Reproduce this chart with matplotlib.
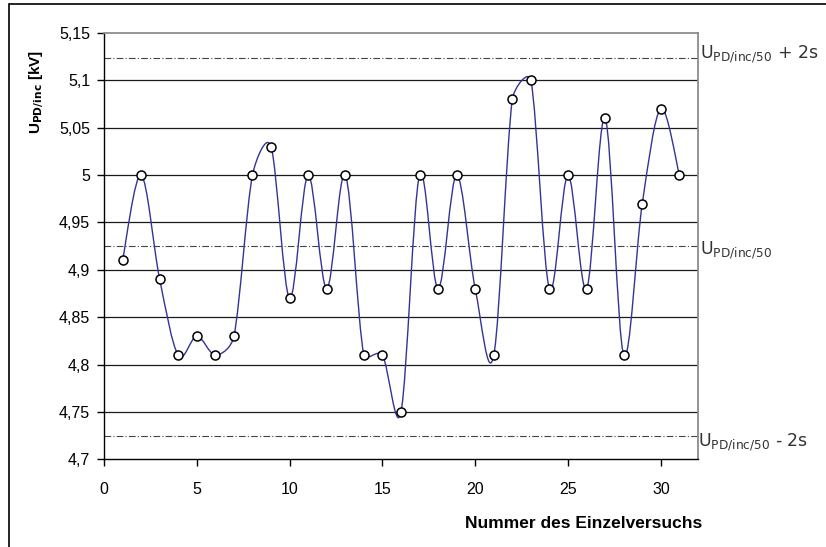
import numpy as np
import matplotlib
matplotlib.use("Agg")
import matplotlib.pyplot as plt
from matplotlib.path import Path
from matplotlib.patches import PathPatch, Rectangle

# Einzelversuche und gemessene Einsetzspannungen
versuch = np.arange(1, 32)
u_inc = [4.91, 5.00, 4.89, 4.81, 4.83, 4.81, 4.83, 5.00, 5.03, 4.87,
         5.00, 4.88, 5.00, 4.81, 4.81, 4.75, 5.00, 4.88, 5.00, 4.88,
         4.81, 5.08, 5.10, 4.88, 5.00, 4.88, 5.06, 4.81, 4.97, 5.07, 5.00]

u50 = 4.925
u50_plus = 5.124
u50_minus = 4.725

y_ticks = [4.7, 4.75, 4.8, 4.85, 4.9, 4.95, 5.0, 5.05, 5.1, 5.15]
y_labels = ["4,7", "4,75", "4,8", "4,85", "4,9", "4,95", "5", "5,05", "5,1", "5,15"]
x_ticks = [0, 5, 10, 15, 20, 25, 30]

plt.rcParams['font.family'] = ['Liberation Sans', 'DejaVu Sans']

fig = plt.figure(figsize=(8.26, 5.47), dpi=100, facecolor='white')
ax = fig.add_axes([0.1259, 0.1603, 0.7191, 0.7794])
ax.set_xlim(0, 32)
ax.set_ylim(4.7, 5.15)

# outer chart frame (only left and top visible)
fig.patches.append(Rectangle((8.5 / 826, -0.2), 1.5, 1.2 - 4 / 547, transform=fig.transFigure,
                             fill=False, edgecolor='black', linewidth=1.2))

# horizontal grid
for g in y_ticks[1:-1]:
    ax.axhline(g, color='#1a1a1a', linewidth=0.9, zorder=1)

# mean and +/- 2s lines
for lvl in (u50_plus, u50, u50_minus):
    ax.axhline(lvl, color='#444444', linewidth=0.8, linestyle=(0, (6, 2, 1, 2)), zorder=1)


def excel_smooth(xs, ys, sx, sy, lim=2.2):
    # bezier smoothing like Excel: 1/6 tangents, limited by segment length (screen space)
    p = np.column_stack([np.asarray(xs, float) * sx, np.asarray(ys, float) * sy])
    e = np.vstack([p[0], p, p[-1]])
    verts = [tuple(p[0])]
    codes = [Path.MOVETO]
    for i in range(len(p) - 1):
        p0, p1, p2, p3 = e[i], e[i + 1], e[i + 2], e[i + 3]
        d12 = np.hypot(*(p2 - p1))
        d02 = np.hypot(*(p2 - p0))
        d13 = np.hypot(*(p3 - p1))
        f1 = min(1 / 6, d12 / (lim * d02))
        f2 = min(1 / 6, d12 / (lim * d13))
        c1 = p1 + f1 * (p2 - p0)
        c2 = p2 - f2 * (p3 - p1)
        verts += [tuple(c1), tuple(c2), tuple(p2)]
        codes += [Path.CURVE4] * 3
    v = np.array(verts)
    v[:, 0] /= sx
    v[:, 1] /= sy
    return Path(v, codes)


# pixel scale of the axes (units -> px)
sx = 594 / 32
sy = 426.3 / 0.45
ax.add_patch(PathPatch(excel_smooth(versuch, u_inc, sx, sy), facecolor='none',
                       edgecolor='#333399', linewidth=1.0, zorder=3))

ax.plot(versuch, u_inc, linestyle='none', marker='o', markersize=6.5,
        markerfacecolor='white', markeredgecolor='black', markeredgewidth=1.1, zorder=4)

ax.set_yticks(y_ticks)
ax.set_yticklabels(y_labels)
ax.set_xticks(x_ticks)
ax.tick_params(axis='both', direction='out', length=5, width=1, labelsize=11.5, colors='black')
ax.tick_params(axis='y', pad=5)
ax.tick_params(axis='x', pad=11)

for s in ('top', 'right'):
    ax.spines[s].set_color('#8c8c8c')
    ax.spines[s].set_linewidth(1.3)
for s in ('left', 'bottom'):
    ax.spines[s].set_color('black')
    ax.spines[s].set_linewidth(1.0)

# right side labels
lab_kw = dict(fontsize=12.5, color='#333333', ha='left', va='baseline', clip_on=False,
              family=['DejaVu Sans'])
ax.text(32.1, 5.1226, r"U$_{\mathregular{PD/inc/50}}$ + 2s", **lab_kw)
ax.text(32.1, 4.916, r"U$_{\mathregular{PD/inc/50}}$", **lab_kw)
ax.text(32.0, 4.713, r"U$_{\mathregular{PD/inc/50}}$ - 2s", **lab_kw)

fig.text(37 / 826, 1 - 92 / 547, r"U$_{\mathbf{PD/inc}}$ [kV]", rotation=90,
         fontsize=11, fontweight='bold', ha='center', va='center')
fig.text(584 / 826, 1 - 523 / 547, "Nummer des Einzelversuchs",
         fontsize=12.5, fontweight='bold', ha='center', va='center')

plt.savefig('out.png', dpi=100, facecolor='white')
